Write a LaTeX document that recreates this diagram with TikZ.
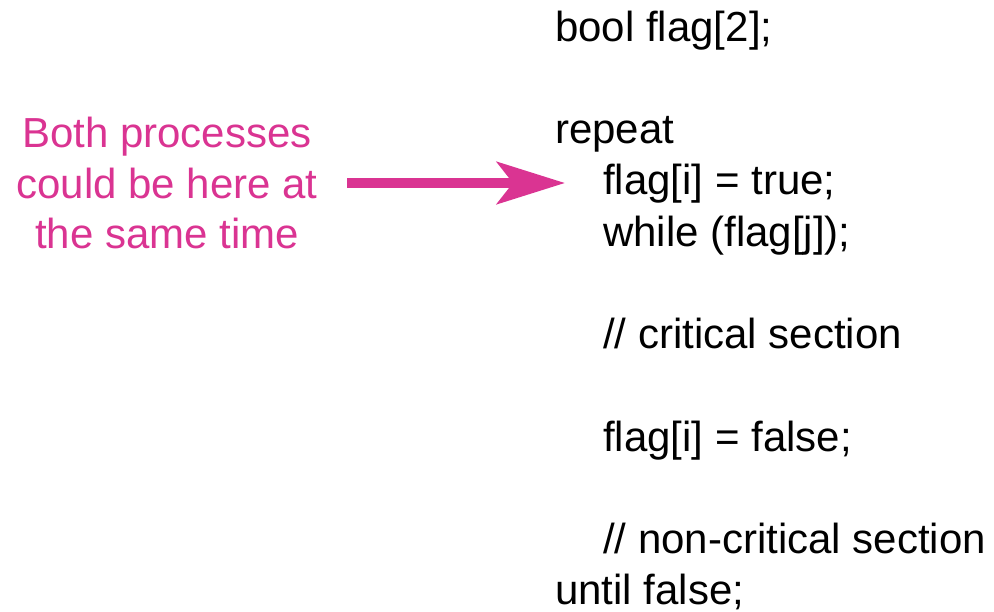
\documentclass[tikz,border=0pt]{standalone}
\usepackage{fontspec}
\setmainfont{Liberation Sans}
\usetikzlibrary{arrows.meta}
\definecolor{notepink}{RGB}{218,52,146}

\begin{document}
\begin{tikzpicture}[x=0.75pt, y=-0.75pt, >=Stealth,
    code/.style={anchor=base west, inner sep=0pt, font=\fontsize{31.5}{37.8}\selectfont},
    note/.style={anchor=base, inner sep=0pt, text=notepink, font=\fontsize{31.5}{37.8}\selectfont}]
    \useasboundingbox (0,0) rectangle (994,611);

    % the code, one line per node
    \node[code] (decl)    at (555,41)    {bool flag[2];};
    \node[code] (rep)     at (555,143.5) {repeat};
    \node[code] (settrue) at (603,194.8) {flag[i] = true;};
    \node[code] (wait)    at (603,246)   {while (flag[j]);};
    \node[code] (crit)    at (603,348.6) {// critical section};
    \node[code] (setfls)  at (603,451.2) {flag[i] = false;};
    \node[code] (noncrit) at (603,553.5) {// non-critical section};
    \node[code] (until)   at (555,604)   {until false;};

    % the remark on the left
    \node[note] (both)  at (167,147) {Both processes};
    \node[note] (could) at (167,198) {could be here at};
    \node[note] (same)  at (167,248.5) {the same time};

    % arrow towards the entry of the loop
    \coordinate (tail) at (347,183);
    \coordinate (head) at (565,183);
    \draw[->, notepink, line width=7.5pt,
          arrows={-Stealth[length=51pt, width=31.5pt, inset=12pt]}] (tail) -- (head);
\end{tikzpicture}
\end{document}
